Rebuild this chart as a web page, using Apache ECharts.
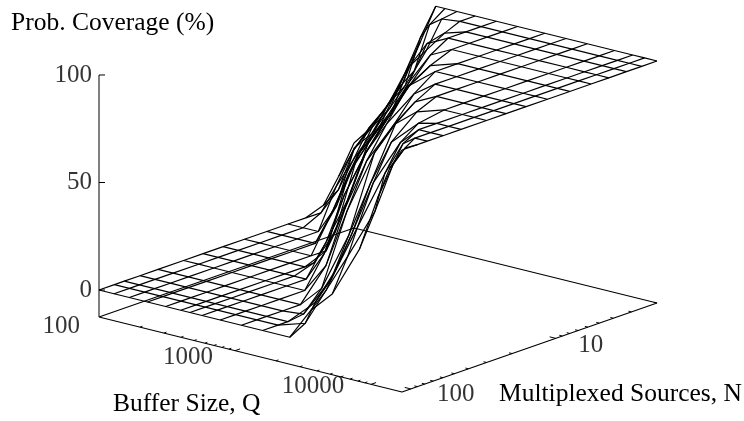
<!DOCTYPE html>
<html><head><meta charset="utf-8">
<style>html,body{margin:0;padding:0;background:#fff}#c{width:744px;height:421px}</style>
<script src="https://cdn.jsdelivr.net/npm/echarts@6/dist/echarts.min.js"></script>
</head><body><div id="c"></div>
<script>
// Data
const bufferSizes = [100,129,167,227,309,399,466,572,778,1114,1595,2530,3620,5190,8230,11200,13700,16900];
const sources = [115,90,77,60,45,30,22,16,11.4,8,5.7,4.3,3.25,2.55,2];
// coverage[i][j]: sources[i], bufferSizes[j]
const coverage0  = [0,0,0,0,0,0,0,0,0,0,0,0,15,25,49,75,90,100];
const coverage1  = [0,0,0,0,0,0,0,0,0,0,0,4,22,40,64,88,97,100];
const coverage2  = [0,0,0,0,0,0,0,0,0,0,0,12,30,52,80,96,100,100];
const coverage3  = [0,0,0,0,0,0,0,0,0,0,1,20,44,70,92,100,100,100];
const coverage4  = [0,0,0,0,0,0,0,0,0,0,10,38,64,86,98,100,100,100];
const coverage5  = [0,0,0,0,0,0,0,0,0,14,42,72,88,96,100,100,100,100];
const coverage6  = [0,0,0,0,0,0,0,0,14,38,62,82,95,100,100,100,100,100];
const coverage7  = [0,0,0,0,0,0,3,14,38,60,76,93,100,100,100,100,100,100];
const coverage8  = [0,0,0,0,0,4,14,30,54,72,90,100,100,100,100,100,100,100];
const coverage9  = [0,0,0,0,18,36,46,55,68,84,96,100,100,100,100,100,100,100];
const coverage10 = [0,0,0,14,36,48,55,63,80,95,100,100,100,100,100,100,100,100];
const coverage11 = [0,4,18,38,50,62,70,82,95,100,100,100,100,100,100,100,100,100];
const coverage12 = [3,12,28,42,56,68,76,87,97,100,100,100,100,100,100,100,100,100];
const coverage13 = [14,28,40,52,70,88,95,99,100,100,100,100,100,100,100,100,100,100];
const coverage14 = [27,35,46,60,82,100,100,100,100,100,100,100,100,100,100,100,100,100];
const coverage = [coverage0,coverage1,coverage2,coverage3,coverage4,coverage5,coverage6,coverage7,coverage8,coverage9,coverage10,coverage11,coverage12,coverage13,coverage14];
const coverageTicks = [0,50,100];
const bufferMajor = [100,1000,10000];
const bufferMinor = [200,300,400,500,600,700,800,900,2000,3000,4000,5000,6000,7000,8000,9000];
const sourceMajor = [10,100];
const sourceMinor = [2,3,4,5,6,7,8,9,20,30,40,50,60,70,80,90];
const zFloor = -12.56;
const Qmin = 100, Qmax = 16900, Nmin = 2, Nmax = 115;

// Oblique projection of (Q, N, coverage) into the plane of the chart
const qf = Q => Math.log10(Q/Qmin)/Math.log10(Qmax/Qmin);
const nf = N => 1 - Math.log10(N/Nmin)/Math.log10(Nmax/Nmin);
const proj = (a, b, z) => [99 + 303*a + 255*b, 317 + 75*a - 89*b - 2.15*(z - zFloor)];
const P = (Q, N, z) => proj(qf(Q), nf(N), z);

const line = (data, width) => ({type:'line', data, symbol:'none', silent:true, animation:false, smooth:false,
  lineStyle:{color:'#000', width:width||1.2}, clip:false});
const series = [];
// surface mesh
sources.forEach((N,i)=> series.push(line(bufferSizes.map((Q,j)=>P(Q,N,coverage[i][j])))));
bufferSizes.forEach((Q,j)=> series.push(line(sources.map((N,i)=>P(Q,N,coverage[i][j])))));
// floor
series.push(line([P(Qmin,Nmax,zFloor),P(Qmax,Nmax,zFloor),P(Qmax,Nmin,zFloor),P(Qmin,Nmin,zFloor),P(Qmin,Nmax,zFloor)]));
// vertical axis
series.push(line([P(Qmin,Nmax,zFloor),P(Qmin,Nmax,100)],1));
coverageTicks.forEach(z=>{const p=P(Qmin,Nmax,z);series.push(line([p,[p[0]+6,p[1]]],1));});
// floor ticks
const qTick=(Q,l)=>series.push(line([proj(qf(Q),0,zFloor),proj(qf(Q),l,zFloor)],1));
const nTick=(N,l)=>series.push(line([proj(1,nf(N),zFloor),proj(1-l,nf(N),zFloor)],1));
bufferMinor.forEach(Q=>qTick(Q,0.01)); bufferMajor.slice(1).forEach(Q=>qTick(Q,0.02));
sourceMinor.forEach(N=>nTick(N,0.01)); sourceMajor.forEach(N=>nTick(N,0.02));
// labels
const font = {fontFamily:'"Liberation Serif"', fontSize:25, color:'#000', textBorderWidth:0, textBorderColor:'transparent'};
const labelSeries = (items)=>({type:'scatter', symbolSize:0, silent:true, animation:false, clip:false,
  data: items.map(t=>({value:t.p, label:{show:true, formatter:t.text, position:'inside', align:t.align||'center', verticalAlign:'middle', offset:t.off||[0,0], ...font}}))});
series.push(labelSeries([
  ...coverageTicks.map(z=>({p:P(Qmin,Nmax,z), text:String(z), align:'right', off:[-7,0]})),
  {p:P(100,Nmax,zFloor), text:'100', align:'right', off:[-19,9]},
  {p:P(1000,Nmax,zFloor), text:'1000', off:[-47,7]},
  {p:P(10000,Nmax,zFloor), text:'10000', off:[-58,2]},
  {p:P(Qmax,10,zFloor), text:'10', off:[35,7]},
  {p:P(Qmax,100,zFloor), text:'100', off:[45,6]},
]));
const chart = echarts.init(document.getElementById('c'),null,{renderer:'canvas'});
const txt = s => ({text:s,font:'25.5px "Liberation Serif"',fill:'#000'});
chart.setOption({
  animation:false, backgroundColor:'#fff',
  grid:{left:0,top:0,width:744,height:421,containLabel:false},
  xAxis:{type:'value',min:0,max:744,show:false},
  yAxis:{type:'value',min:0,max:421,inverse:true,show:false},
  graphic:[
    {type:'text',left:11,top:10,style:txt('Prob. Coverage (%)')},
    {type:'text',left:113,top:391,style:txt('Buffer Size, Q')},
    {type:'text',left:499,top:381,style:txt('Multiplexed Sources, N')}
  ],
  series
});
</script></body></html>
